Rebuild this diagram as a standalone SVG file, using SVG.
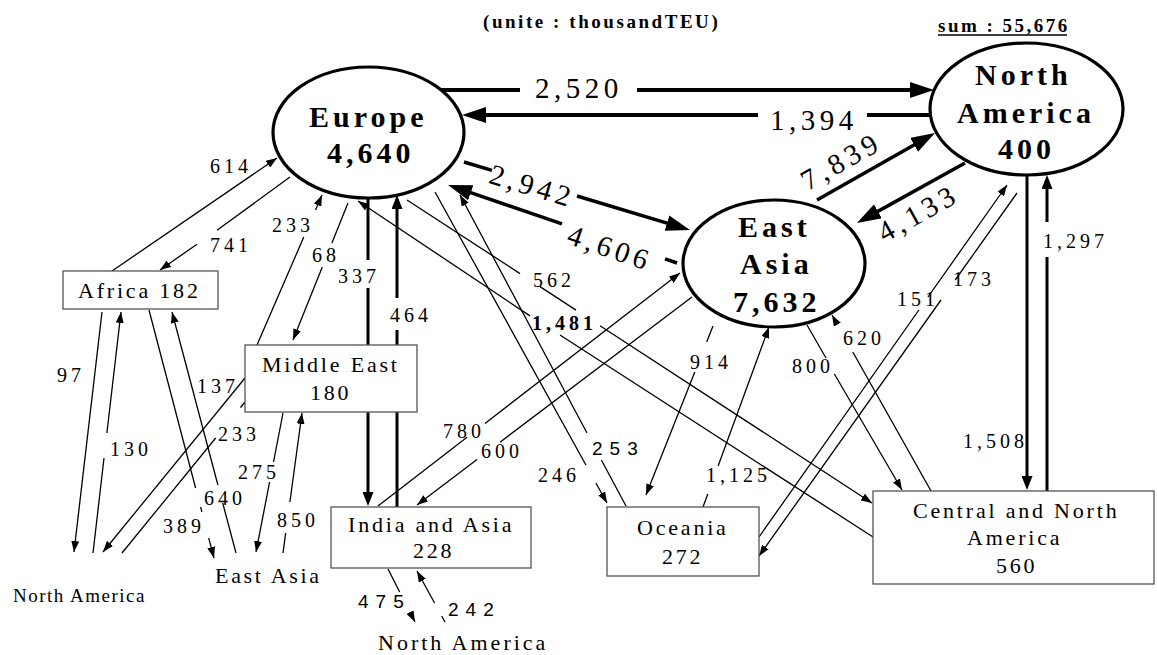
<svg xmlns="http://www.w3.org/2000/svg" width="1157" height="655" viewBox="0 0 1157 655" font-family="'Liberation Serif', 'Times New Roman', 'DejaVu Serif', serif">
  <style>
    .oval { fill: #fff; stroke: #000; stroke-width: 3.2; }
    .box { fill: #fff; stroke: #555; stroke-width: 1.3; }
    text { font-family: 'Liberation Serif', 'Times New Roman', 'DejaVu Serif', serif; fill: #000; }
    .big { font-weight: bold; font-size: 30px; letter-spacing: 4px; }
    .bx { font-size: 22px; letter-spacing: 2.8px; }
    .lbl { font-size: 20px; letter-spacing: 4px; }
    .lbb { font-weight: bold; }
    text.lbs { font-family: 'Liberation Sans', Arial, sans-serif; font-size: 19px; letter-spacing: 7px; }
    .flow { font-size: 29px; letter-spacing: 4.5px; }
    .head { font-weight: bold; font-size: 19px; }
    .thick { fill: none; stroke: #000; stroke-width: 4; }
    .diag { fill: none; stroke: #000; stroke-width: 3.5; }
    .vert { fill: none; stroke: #000; stroke-width: 3; }
    .thin { fill: none; stroke: #000; stroke-width: 1.3; }
    .big-end { marker-end: url(#ahBig); }
    .mid-end { marker-end: url(#ahMid); }
    .sm-end { marker-end: url(#ahSmall); }
  </style>
  <defs>
    <!-- tip sits 10px beyond the path end so the heavy stroke stays inside the head -->
    <marker id="ahBig" markerUnits="userSpaceOnUse" markerWidth="24" markerHeight="16" refX="14" refY="8" orient="auto">
      <path d="M0,0 L24,8 L0,16 Z" fill="#000"/>
    </marker>
    <marker id="ahMid" markerUnits="userSpaceOnUse" markerWidth="14" markerHeight="11" refX="4" refY="5.5" orient="auto">
      <path d="M0,0 L14,5.5 L0,11 Z" fill="#000"/>
    </marker>
    <marker id="ahSmall" markerUnits="userSpaceOnUse" markerWidth="11" markerHeight="8" refX="11" refY="4" orient="auto">
      <path d="M0,0 L11,4 L0,8 Z" fill="#000"/>
    </marker>
  </defs>

  <rect width="1157" height="655" fill="#fff"/>

  <!-- header -->
  <g id="header">
    <text class="head" x="483" y="28" letter-spacing="2.55">(unite : thousandTEU)</text>
    <text class="head" x="938" y="32" letter-spacing="2.5">sum : 55,676</text>
    <line x1="938" y1="35" x2="1067" y2="35" stroke="#000" stroke-width="1.3"/>
  </g>

  <!-- flows -->
  <g id="connectors">
    <!-- main trunk flows -->
    <path class="thick big-end" d="M440,90 H520 M637,90 H924"/>
    <path class="thick big-end" d="M930,115 H867 M758,115 H472"/>
    <path class="diag big-end" d="M817,200 L926.3,137.9"/>
    <path class="diag big-end" d="M965,163 L865.7,218.1"/>
    <path class="diag big-end" d="M464,162 L492,170.4 M577,196 L680.4,227.1"/>
    <path class="diag big-end" d="M677,263 L665,258.9 M562,223.8 L457.5,188.2"/>
    <path class="vert mid-end" d="M368,198 V260 M368,288 V496"/>
    <path class="vert mid-end" d="M397,507 V330 M397,298 V205"/>
    <path class="vert mid-end" d="M1027,175 V480"/>
    <path class="vert mid-end" d="M1047,491 V257 M1047,222 V185"/>

    <!-- Africa -->
    <path class="thin sm-end" d="M112,271 L277,158"/>
    <path class="thin sm-end" d="M290,177 L217,230.3 M197,244.2 L160,270"/>
    <path class="thin sm-end" d="M102,312 L74,552"/>
    <path class="thin sm-end" d="M93,553 L104,458 M106.9,433 L121,312"/>
    <path class="thin sm-end" d="M149,310 L195.6,488 M200.6,507 L201.9,512 M208.7,538 L214,558"/>
    <path class="thin sm-end" d="M236,553 L222.7,503 M217.9,485 L172,312"/>

    <!-- Middle East -->
    <path class="thin sm-end" d="M257,345 L303.8,237 M315.5,210 L322,195"/>
    <path class="thin sm-end" d="M348,203 L331.9,243 M322.3,267 L293,340"/>
    <path class="thin sm-end" d="M245,378 L103,552"/>
    <path class="thin" d="M245,402 L240.5,407.5 M215.7,438 L122,553"/>
    <path class="thin sm-end" d="M283,413 L273.5,462 M269.6,482 L256,552"/>
    <path class="thin sm-end" d="M283,553 L285.7,533 M289.9,502 L302,413"/>

    <!-- Europe to Americas / Oceania -->
    <path class="thin sm-end" d="M407,200 L520,273.6 M540,286.6 L576,310.1 M600,325.8 L872,503"/>
    <path class="thin sm-end" d="M873,537 L560,335 M530,315.9 L358,201"/>
    <path class="thin sm-end" d="M435,192 L585.9,465 M595.9,483 L607,503"/>
    <path class="thin sm-end" d="M626,506 L601.4,460 M587,433 L460,195"/>

    <!-- India and Asia -->
    <path class="thin sm-end" d="M378,506 L467,437.3 M485,423.4 L680,273"/>
    <path class="thin sm-end" d="M692,297 L500,442.2 M477,459.6 L417,505"/>
    <path class="thin sm-end" d="M388,569 L399.7,592 M409.9,612 L415,622"/>
    <path class="thin sm-end" d="M445,622 L441.7,616 M434.6,603 L417,571"/>

    <!-- East Asia -->
    <path class="thin sm-end" d="M713,326 L706.7,342 M694.8,372 L646,495"/>
    <path class="thin sm-end" d="M703,507 L707.8,494 M718.1,466 L769,327"/>
    <path class="thin sm-end" d="M807,325 L826,358 M834.4,374 L902,490"/>
    <path class="thin sm-end" d="M931,491 L852.8,352 M835.9,322 L832,315"/>

    <!-- Oceania and North America -->
    <path class="thin sm-end" d="M759,537 L918.9,310 M928,297 L1007,185"/>
    <path class="thin sm-end" d="M1017,193 L955.2,280 M941,300 L759,556"/>
  </g>

  <!-- regions -->
  <g id="europe">
    <ellipse class="oval" cx="368.5" cy="132.5" rx="95.5" ry="65.5"/>
    <text class="big" x="309" y="127">Europe</text>
    <text class="big" x="327" y="163">4,640</text>
  </g>
  <g id="north-america">
    <ellipse class="oval" cx="1026.5" cy="109" rx="96.5" ry="66"/>
    <text class="big" x="975" y="85">North</text>
    <text class="big" x="957" y="123">America</text>
    <text class="big" x="998" y="159">400</text>
  </g>
  <g id="east-asia">
    <ellipse class="oval" cx="774" cy="263.5" rx="91" ry="63.5"/>
    <text class="big" x="738" y="237">East</text>
    <text class="big" x="740" y="274">Asia</text>
    <text class="big" x="733" y="312">7,632</text>
  </g>
  <g id="africa">
    <rect class="box" x="63" y="271" width="155" height="38"/>
    <text class="bx" x="78" y="298">Africa 182</text>
  </g>
  <g id="middle-east">
    <rect class="box" x="245" y="345" width="172" height="67"/>
    <text class="bx" x="262" y="372">Middle East</text>
    <text class="bx" x="310" y="400">180</text>
  </g>
  <g id="india-asia">
    <rect class="box" x="331" y="507" width="200" height="61"/>
    <text class="bx" x="348" y="532">India and Asia</text>
    <text class="bx" x="413" y="558">228</text>
  </g>
  <g id="oceania">
    <rect class="box" x="607" y="507" width="152" height="69"/>
    <text class="bx" x="637" y="535">Oceania</text>
    <text class="bx" x="662" y="564">272</text>
  </g>
  <g id="central-north-america">
    <rect class="box" x="873" y="491" width="281" height="93"/>
    <text class="bx" x="913" y="518">Central and North</text>
    <text class="bx" x="967" y="545">America</text>
    <text class="bx" x="996" y="573">560</text>
  </g>
  <g id="africa-north-america">
    <text class="bx" x="13" y="602" font-size="19" letter-spacing="1.5" style="font-size:19px;letter-spacing:1.5px">North America</text>
  </g>
  <g id="middle-east-east-asia">
    <text class="bx" x="215" y="583" style="letter-spacing:2.7px">East Asia</text>
  </g>
  <g id="india-north-america">
    <text class="bx" x="378" y="650" style="letter-spacing:3px">North America</text>
  </g>

  <!-- flow volumes -->
  <g id="flow-labels">
    <text class="flow" x="535" y="98">2,520</text>
    <text class="flow" x="770" y="130">1,394</text>
    <text class="flow" transform="translate(530,185) rotate(16.7)" x="-41.5" y="10">2,942</text>
    <text class="flow" transform="translate(608,247) rotate(18.8)" x="-41.5" y="10">4,606</text>
    <text class="flow" transform="translate(839,162) rotate(-29.6)" x="-41.5" y="10">7,839</text>
    <text class="flow" transform="translate(916,214) rotate(-29)" x="-41.5" y="10">4,133</text>

    <text class="lbl" x="210" y="173">614</text>
    <text class="lbl" x="210" y="252">741</text>
    <text class="lbl" x="272" y="232">233</text>
    <text class="lbl" x="312" y="262">68</text>
    <text class="lbl" x="338" y="283">337</text>
    <text class="lbl" x="390" y="322">464</text>
    <text class="lbl" x="57" y="382">97</text>
    <text class="lbl" x="110" y="456">130</text>
    <text class="lbl" x="197" y="393">137</text>
    <text class="lbl" x="218" y="441">233</text>
    <text class="lbl" x="204" y="505">640</text>
    <text class="lbl" x="163" y="533">389</text>
    <text class="lbl" x="238" y="479">275</text>
    <text class="lbl" x="277" y="527">850</text>
    <text class="lbl" x="533" y="287">562</text>
    <text class="lbl lbb" x="532" y="330">1,481</text>
    <text class="lbl" x="538" y="482">246</text>
    <text class="lbs" x="592" y="455">253</text>
    <text class="lbl" x="443" y="438">780</text>
    <text class="lbl" x="481" y="458">600</text>
    <text class="lbl" x="690" y="369">914</text>
    <text class="lbl" x="706" y="482">1,125</text>
    <text class="lbl" x="792" y="373">800</text>
    <text class="lbl" x="843" y="345">620</text>
    <text class="lbl" x="897" y="306">151</text>
    <text class="lbl" x="953" y="286">173</text>
    <text class="lbl" x="963" y="448">1,508</text>
    <text class="lbl" x="1043" y="248">1,297</text>
    <text class="lbs" x="358" y="608">475</text>
    <text class="lbs" x="448" y="616">242</text>
  </g>
</svg>
